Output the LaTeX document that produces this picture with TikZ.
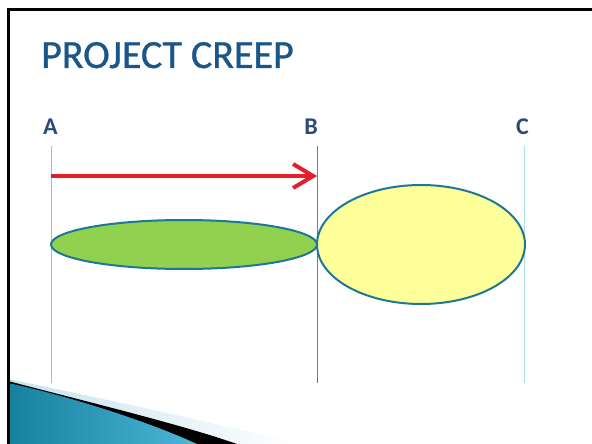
\documentclass[tikz,border=0pt]{standalone}
\usepackage{fontspec}
\setmainfont{Carlito}
\newfontfamily\titlefont[FakeBold=0.8]{Carlito}
\usetikzlibrary{arrows.meta}
\definecolor{titleblue}{HTML}{1A5688}
\definecolor{labelblue}{HTML}{2A4A7A}
\definecolor{edgeteal}{HTML}{1E7894}
\definecolor{leafgreen}{HTML}{92D050}
\definecolor{paleyellow}{HTML}{FFFF99}
\definecolor{arrowred}{HTML}{E21F2A}
\definecolor{lineA}{HTML}{8CC8D8}
\definecolor{lineB}{HTML}{3A8DB5}
\definecolor{lineC}{HTML}{A8DCE8}
\definecolor{tealdark}{HTML}{16809F}
\definecolor{teallight}{HTML}{4DB6D6}
\definecolor{palecyan}{HTML}{C6E3EE}
\tikzset{
  x=1pt, y=-1pt,
  marklabel/.style={font=\fontsize{24}{24}\selectfont\bfseries, text=labelblue, inner sep=0pt, anchor=base},
  guide/.style={line width=1pt},
  blob/.style={draw=edgeteal, line width=2pt},
}
\begin{document}
\begin{tikzpicture}
\useasboundingbox (0,0) rectangle (592,444);
\fill[white] (0,0) rectangle (592,444);
% bottom-left swoosh
\shade[left color=palecyan, right color=white] (8,379) .. controls (100,398) and (220,424) .. (300,444) -- (8,444) -- cycle;
\fill[black] (8,381) .. controls (80,400) and (180,424) .. (237,444) -- (8,444) -- cycle;
\shade[left color=tealdark, right color=teallight] (8,383) .. controls (60,394) and (140,418) .. (197,444) -- (8,444) -- cycle;
% frame
\draw[line width=3pt, black] (8.5,444) -- (8.5,9.5) -- (592,9.5);
% title
\node[font=\titlefont\fontsize{40}{40}\selectfont, text=titleblue, inner sep=0pt, anchor=base west] (title) at (41,68) {PROJECT CREEP};
% labels
\node[marklabel] (la) at (50.5,135) {A};
\node[marklabel] (lb) at (311,135) {B};
\node[marklabel] (lc) at (522.5,135) {C};
% guide lines
\coordinate (a1) at (51,146); \coordinate (a2) at (51,383);
\coordinate (b1) at (317,146); \coordinate (b2) at (317,383);
\coordinate (c1) at (524,146); \coordinate (c2) at (524,383);
\draw[guide, lineA] (a1) -- (a2);
\draw[guide, lineB] (b1) -- (b2);
\draw[guide, lineC] (c1) -- (c2);
% arrow
\coordinate (r1) at (51,176); \coordinate (r2) at (317,176);
\draw[arrowred, line width=4pt, -{Straight Barb[length=20pt,width=24pt]}] (r1) -- (r2);
% ellipses
\draw[blob, fill=leafgreen] (184,244.5) ellipse [x radius=133, y radius=24.5];
\draw[blob, fill=paleyellow] (421,244.5) ellipse [x radius=104, y radius=59.5];
\end{tikzpicture}
\end{document}
